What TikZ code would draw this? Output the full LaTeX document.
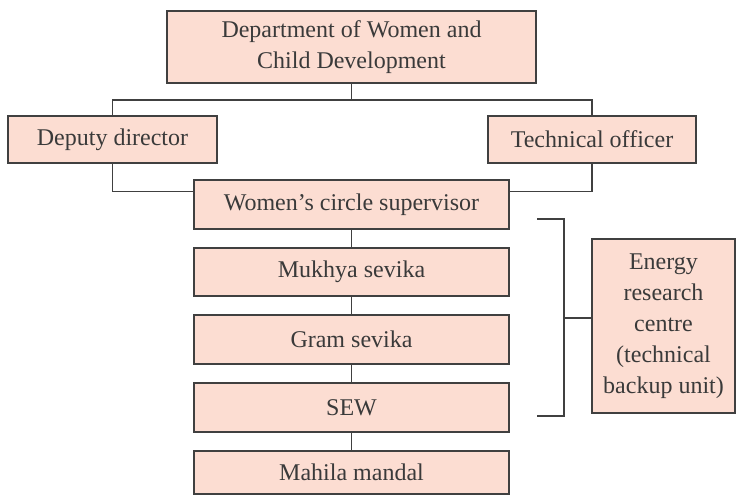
\documentclass[tikz,border=0pt]{standalone}
\usepackage{fontspec}
\setmainfont{Liberation Serif}
\usepackage{tikz}
\usetikzlibrary{calc,positioning}
\definecolor{Pink}{HTML}{FCDDD2}
\definecolor{Ink}{HTML}{404040}

\begin{document}
\begin{tikzpicture}[x=1pt,y=-1pt,
  post/.style={draw=Ink,fill=Pink,line width=1.5pt,inner sep=0pt,align=center,
    font=\fontsize{24}{31}\selectfont,text=Ink!90!black},
  link/.style={draw=Ink,line width=1.5pt}
]
\useasboundingbox (0,0) rectangle (737,496);
\node[post,minimum width=369,minimum height=72] (dept) at (351.5,47) {Department of Women and\\Child Development};
\node[post,minimum width=209,minimum height=47] (deputy) at (112.5,139.5) {Deputy director};
\node[post,minimum width=208,minimum height=47] (techoff) at (592,139.5) {Technical officer};
\node[post,minimum width=315,minimum height=49] (supervisor) at (351.5,204.5) {Women’s circle supervisor};
\node[post,minimum width=315,minimum height=48] (mukhya) at (351.5,272) {Mukhya sevika};
\node[post,minimum width=315,minimum height=49] (gram) at (351.5,339.5) {Gram sevika};
\node[post,minimum width=315,minimum height=49] (sew) at (351.5,407.5) {SEW};
\node[post,minimum width=315,minimum height=43] (mahila) at (351.5,472.5) {Mahila mandal};
\node[post,minimum width=143,minimum height=174] (energy) at (663.5,326) {Energy\\research\\centre\\(technical\\backup unit)};
% top level
\coordinate (bus) at (351.5,100);
\draw[link] (dept) -- (bus) -| (deputy.north);
\draw[link] (bus) -| (techoff.north);
\draw[link] (deputy.south) |- ([yshift=-12pt]supervisor.north west);
\draw[link] (techoff.south) |- ([yshift=-12pt]supervisor.north east);
% column
\foreach \a/\b in {supervisor/mukhya,mukhya/gram,gram/sew,sew/mahila}\draw[link] (\a)--(\b);
% bracket
\coordinate (brtop) at (537,219);
\coordinate (brbot) at (537,416);
\coordinate (spine) at (564,318);
\draw[link] (brtop) -| (spine) |- (brbot);
\draw[link] (spine) -- (spine -| energy.west);
\end{tikzpicture}
\end{document}
